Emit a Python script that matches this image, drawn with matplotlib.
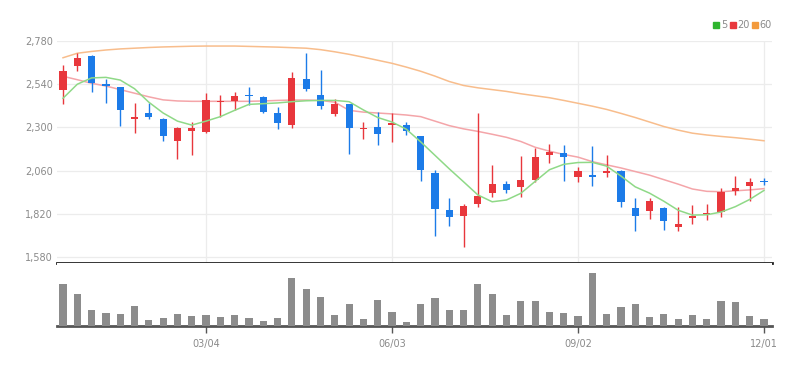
import numpy as np
import matplotlib
matplotlib.use('Agg')
import matplotlib.pyplot as plt
from matplotlib.lines import Line2D

# weekly candles
opens = [2508, 2641, 2697, 2539, 2523, 2348, 2378, 2348, 2226, 2278,
         2276, 2439, 2447, 2480, 2467, 2382, 2313, 2567, 2478, 2374,
         2430, 2289, 2304, 2315, 2312, 2252, 2048, 1841, 1808, 1874,
         1934, 1986, 1971, 2008, 2147, 2156, 2023, 2036, 2045, 2060,
         1851, 1836, 1854, 1748, 1795, 1817, 1828, 1948, 1974, 2002]
closes = [2615, 2684, 2548, 2530, 2397, 2359, 2356, 2252, 2298, 2297,
          2452, 2447, 2474, 2474, 2388, 2323, 2576, 2512, 2419, 2430,
          2298, 2295, 2263, 2323, 2280, 2063, 1845, 1800, 1863, 1919,
          1986, 1952, 2008, 2137, 2162, 2134, 2060, 2023, 2060, 1887,
          1808, 1891, 1780, 1762, 1810, 1826, 1943, 1962, 1998, 1995]
highs = [2647, 2715, 2702, 2567, 2525, 2434, 2437, 2350, 2300, 2332,
         2489, 2480, 2495, 2523, 2474, 2415, 2606, 2712, 2619, 2456,
         2432, 2332, 2388, 2382, 2332, 2254, 2063, 1906, 1874, 2378,
         2091, 2004, 2141, 2184, 2208, 2202, 2082, 2197, 2147, 2065,
         1906, 1906, 1856, 1856, 1869, 1874, 1962, 2030, 2017, 2017]
lows = [2430, 2615, 2498, 2434, 2308, 2267, 2345, 2226, 2126, 2147,
        2270, 2356, 2397, 2424, 2380, 2289, 2295, 2505, 2400, 2363,
        2152, 2236, 2202, 2220, 2258, 2004, 1697, 1752, 1637, 1860,
        1915, 1934, 1912, 1998, 2101, 2004, 1998, 1974, 2026, 1856,
        1726, 1789, 1730, 1726, 1763, 1785, 1800, 1924, 1893, 1980]
volumes = [42.3, 31.7, 15.7, 13.3, 12.3, 20.3, 5.7, 8.3, 12.3, 10.3,
           10.7, 9.0, 10.7, 8.3, 5.3, 8.3, 47.7, 37.3, 29.0, 10.7,
           21.7, 7.3, 25.7, 14.0, 3.7, 21.7, 28.3, 15.7, 15.7, 41.7,
           31.7, 10.7, 25.0, 25.0, 14.0, 13.3, 10.0, 53.3, 11.7, 19.0,
           21.7, 9.0, 12.3, 6.7, 10.7, 7.3, 25.0, 24.0, 10.0, 6.7]

# moving averages as drawn
ma5 = [2462, 2540, 2575, 2578, 2563, 2515, 2440, 2380, 2335, 2313,
       2335, 2360, 2395, 2428, 2432, 2436, 2443, 2448, 2450, 2450,
       2443, 2397, 2355, 2330, 2290, 2220, 2145, 2070, 1998, 1925,
       1887, 1897, 1934, 2000, 2065, 2095, 2105, 2106, 2085, 2030,
       1970, 1935, 1890, 1840, 1813, 1815, 1830, 1860, 1900, 1950]
ma20 = [2584, 2565, 2545, 2530, 2510, 2490, 2470, 2453, 2447, 2445,
        2445, 2445, 2445, 2445, 2447, 2450, 2452, 2452, 2450, 2440,
        2395, 2385, 2380, 2375, 2369, 2360, 2335, 2310, 2292, 2278,
        2262, 2245, 2222, 2190, 2168, 2150, 2135, 2110, 2092, 2075,
        2055, 2035, 2010, 1985, 1958, 1945, 1943, 1948, 1953, 1960]
ma60 = [2687, 2712, 2722, 2730, 2736, 2740, 2744, 2747, 2749, 2751,
        2752, 2752, 2752, 2750, 2748, 2746, 2743, 2740, 2732, 2720,
        2706, 2690, 2673, 2656, 2635, 2612, 2585, 2555, 2533, 2520,
        2510, 2500, 2487, 2476, 2465, 2450, 2434, 2418, 2400, 2378,
        2355, 2330, 2305, 2285, 2268, 2258, 2250, 2243, 2235, 2226]

price_ticks = [1580, 1820, 2060, 2300, 2540, 2780]
date_pos = [10, 23, 36, 49]
date_labels = ['03/04', '06/03', '09/02', '12/01']

UP = '#e8373c'
DOWN = '#1c7be8'
LABEL = ['Liberation Sans Narrow', 'DejaVu Sans']

W, H = 809, 366
fig = plt.figure(figsize=(W / 100, H / 100), dpi=100)

def px_axes(x0, y0, x1, y1):
    return fig.add_axes([x0 / W, 1 - y1 / H, (x1 - x0) / W, (y1 - y0) / H])

ax = px_axes(57, 41, 772, 263)
axv = px_axes(57, 263, 772, 326)

x = np.arange(len(opens))
xlim = (-0.42, len(opens) - 0.44)

# price panel
for i in x:
    up = closes[i] >= opens[i]
    c = UP if up else DOWN
    ax.vlines(i, lows[i], highs[i], color=c, lw=1, zorder=3)
    lo, hi = min(opens[i], closes[i]), max(opens[i], closes[i])
    ax.bar(i, max(hi - lo, 4), bottom=lo, width=0.5, color=c, zorder=4)

ax.plot(x, ma60, color='#f8bd8c', lw=1.1, zorder=2)
ax.plot(x, ma20, color='#f4a5a9', lw=1.1, zorder=2)
ax.plot(x, ma5, color='#8fd987', lw=1.1, zorder=5)

ax.set_xlim(*xlim)
ax.set_ylim(1547, 2780)
ax.set_yticks(price_ticks)
ax.set_yticklabels([f'{v:,}' for v in price_ticks], family=LABEL,
                   fontsize=7, color='#8a8a8a')
ax.set_xticks(date_pos)
ax.tick_params(axis='x', length=0, labelbottom=False)
ax.tick_params(axis='y', length=0, pad=3)
ax.grid(True, color='#ececec', lw=0.9, zorder=0)
for s in ['top', 'left', 'right']:
    ax.spines[s].set_visible(False)
ax.spines['bottom'].set_color('#222222')
ax.spines['bottom'].set_linewidth(2)

# volume panel
axv.bar(x, volumes, width=0.5, color='#8c8c8c', zorder=3)
axv.set_xlim(*xlim)
axv.set_ylim(0, 63)
axv.set_yticks([])
axv.set_xticks(date_pos)
axv.set_xticklabels(date_labels, family=LABEL, fontsize=7, color='#8a8a8a')
axv.tick_params(axis='x', length=5, width=1, color='#555555', pad=4)
for s in ['top', 'left', 'right']:
    axv.spines[s].set_visible(False)
axv.spines['bottom'].set_color('#555555')
axv.spines['bottom'].set_linewidth(2)

# legend
handles = [Line2D([], [], ls='', marker='s', ms=5, color=c)
           for c in ['#2fb52f', UP, '#f39a3c']]
fig.legend(handles, ['5', '20', '60'], loc='center right',
           bbox_to_anchor=(772 / W, 1 - 25 / H), ncol=3, frameon=False,
           handlelength=0.6, handletextpad=0.15, columnspacing=0.3,
           prop={'family': LABEL, 'size': 7}, labelcolor='#8a8a8a',
           borderpad=0, borderaxespad=0)

fig.savefig('out.png', dpi=100)
